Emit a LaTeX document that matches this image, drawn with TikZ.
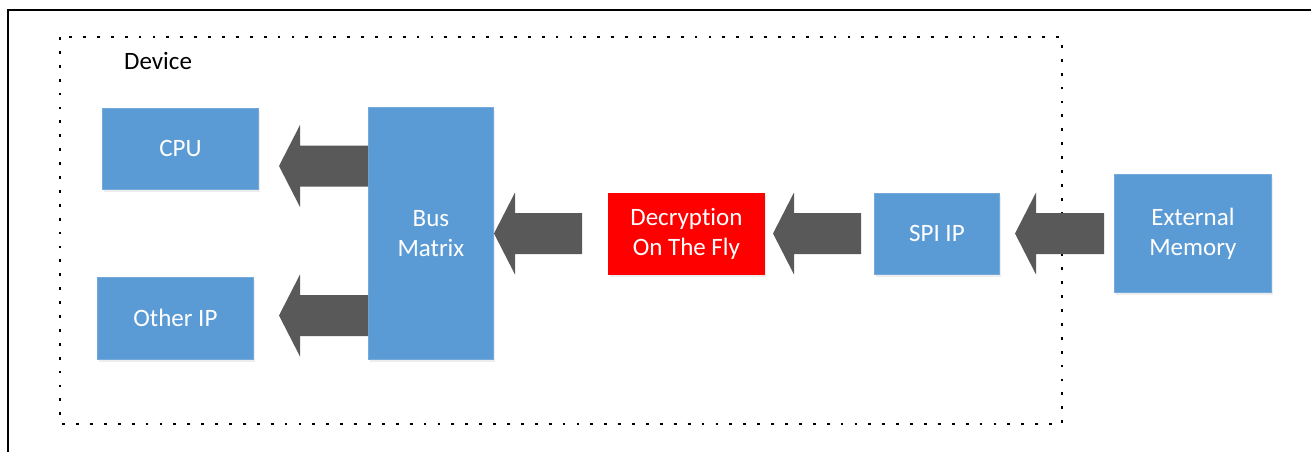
\documentclass[tikz,border=0pt]{standalone}
\usepackage{fontspec}
\setmainfont{Carlito}[Ligatures={NoCommon,NoRare,NoDiscretionary,NoContextual}]
\definecolor{boxblue}{HTML}{5B9BD5}
\definecolor{boxred}{HTML}{FF0000}
\definecolor{arrowgray}{HTML}{595959}
\tikzset{
  blk/.style={fill=boxblue, draw=boxblue!85!white, line width=0.8pt, text=white, align=center,
    font=\fontsize{25}{30}\selectfont, inner sep=0pt, anchor=north west},
  redblk/.style={blk, fill=boxred, draw=boxred},
  blkshadow/.style={fill=black!7, draw=none},
  arrowfill/.style={fill=arrowgray, draw=none},
  devframe/.style={line width=2.8pt, dash pattern=on 2.8pt off 11.1pt},
  outerframe/.style={line width=2pt, black},
}
% \blkarrow{name}{tail x}{tip x}{centre y}
\newcommand\blkarrow[4]{%
  \coordinate (#1tail) at (#2,#4);
  \coordinate (#1tip) at (#3,#4);
  \fill[arrowfill] (#2,{#4-20.5}) -- ({#3+21},{#4-20.5}) -- ({#3+21},{#4-41}) -- (#1tip)
     -- ({#3+21},{#4+41}) -- ({#3+21},{#4+20.5}) -- (#2,{#4+20.5}) -- cycle;}
\begin{document}
\begin{tikzpicture}[x=1pt,y=-1pt]
\useasboundingbox (0,0) rectangle (1311,452);
% outer frame (partial)
\draw[outerframe] (8,452) -- (8,10) -- (1311,10);
% device frame
\draw[devframe] (60,37) rectangle (1062,424);
\node[anchor=base west, font=\fontsize{25}{30}\selectfont, inner sep=0pt] (devlbl) at (124,70) {Device};
% shadows
\foreach \a/\b/\c/\d in {102/108/258/189, 97/277/253/359, 368/107/493/359, 608/193/764/274, 874/193/999/274, 1114/174/1271/292}
  \fill[blkshadow] (\a+2,\b+3) rectangle (\c+2,\d+3);
% boxes
\node[blk, minimum width=156pt, minimum height=81pt] (cpu) at (102,108) {CPU};
\node[blk, minimum width=156pt, minimum height=82pt] (oip) at (97,277) {Other IP};
\node[blk, minimum width=125pt, minimum height=252pt] (bus) at (368,107) {Bus\\Matrix};
\node[redblk, minimum width=156pt, minimum height=81pt] (dec) at (608,193) {Decryption\\On The Fly};
\node[blk, minimum width=125pt, minimum height=81pt] (spi) at (874,193) {SPI IP};
\node[blk, minimum width=157pt, minimum height=118pt] (ext) at (1114,174) {External\\Memory};
% block arrows
\blkarrow{a1}{368}{279}{166}
\blkarrow{a2}{368}{279}{315.5}
\blkarrow{a3}{582}{494}{233.5}
\blkarrow{a4}{861}{773}{233.5}
\blkarrow{a5}{1104}{1015}{233.5}
\end{tikzpicture}
\end{document}
